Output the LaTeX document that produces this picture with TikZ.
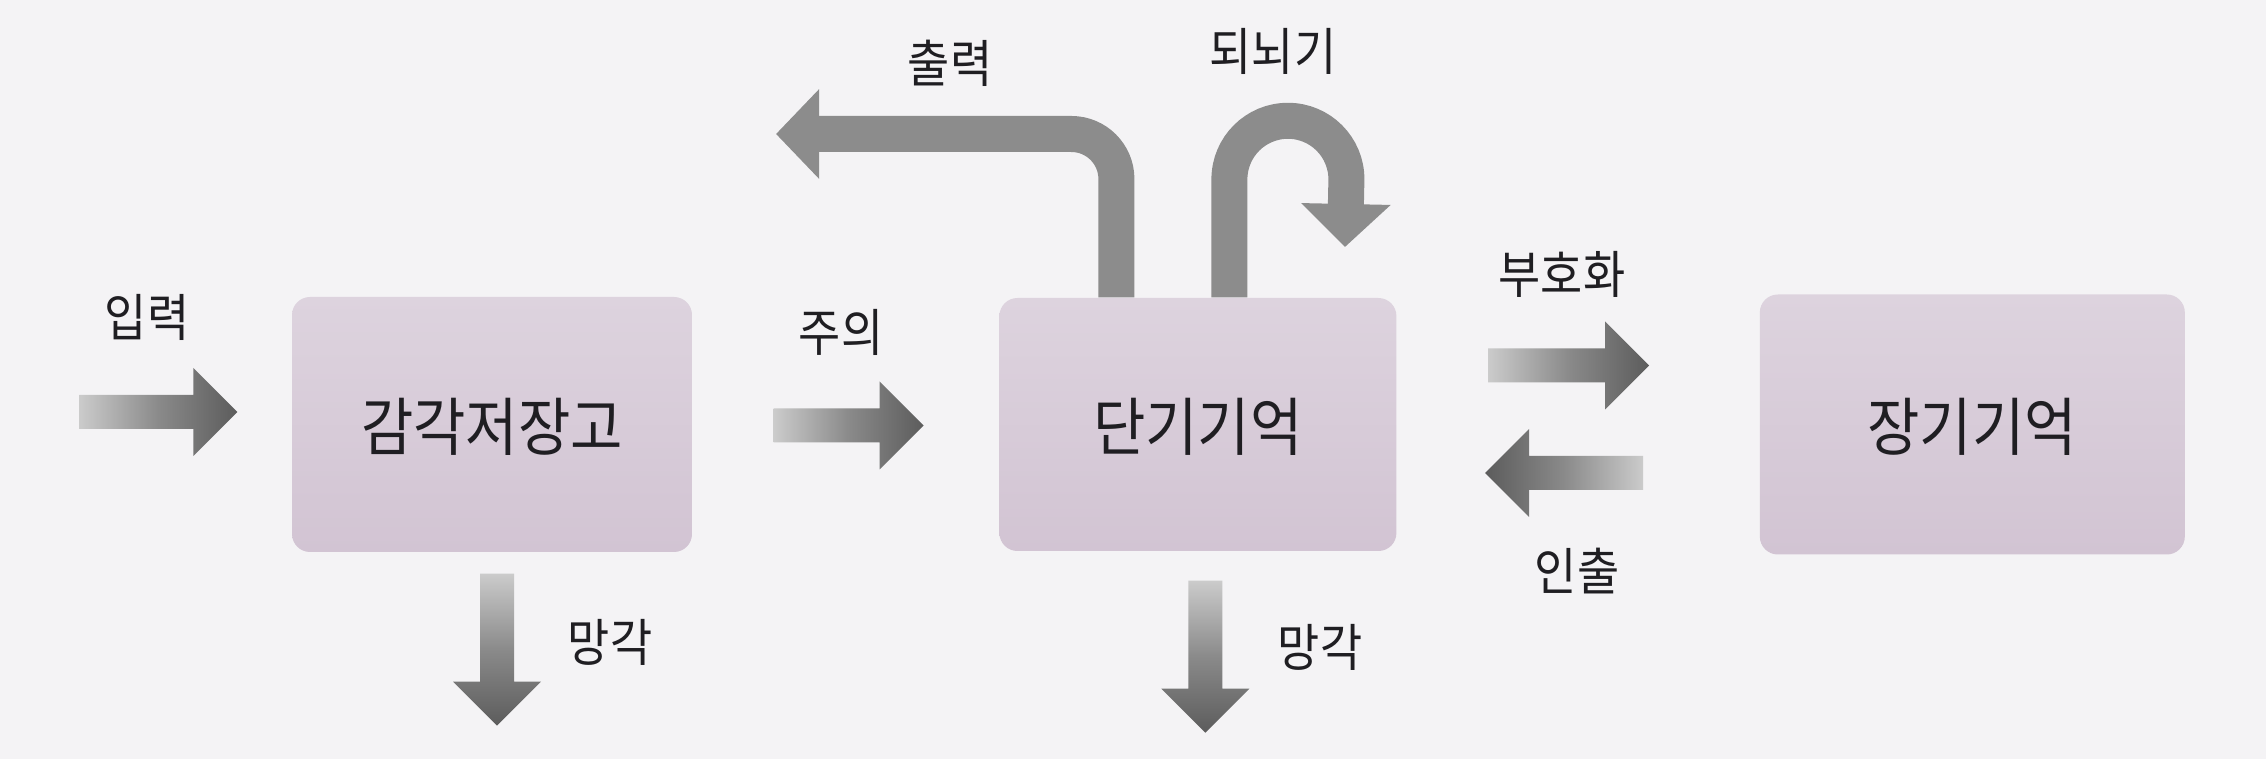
\documentclass[tikz,border=0pt]{standalone}
\usepackage{fontspec}
\setmainfont{Noto Sans CJK KR}[FakeStretch=0.9]
\usetikzlibrary{arrows.meta,positioning,calc}
\definecolor{paper}{HTML}{F4F3F5}
\definecolor{boxtop}{HTML}{DDD3DE}
\definecolor{boxbot}{HTML}{D2C4D3}
\definecolor{arrowlight}{HTML}{CBCBCB}
\definecolor{arrowmid}{HTML}{8A8A8A}
\definecolor{arrowdark}{HTML}{5C5C5C}
\definecolor{bentgray}{HTML}{8C8C8C}
\definecolor{ink}{HTML}{1F1E22}

\tikzset{
  membox/.style={rounded corners=0.18cm, top color=boxtop, bottom color=boxbot,
    text=ink, font=\fontsize{18pt}{21pt}\selectfont, text height=1.6em, text depth=0.1em},
  lbl/.style={text=ink, font=\fontsize{14.5pt}{17pt}\selectfont},
  fat arrow/.style={to path={
    ($(\tikztostart)!0.17cm!90:(\tikztotarget)$)
    -- ($($(\tikztotarget)!0.44cm!(\tikztostart)$)!0.17cm!90:(\tikztotarget)$)
    -- ($($(\tikztotarget)!0.44cm!(\tikztostart)$)!0.44cm!90:(\tikztotarget)$)
    -- (\tikztotarget)
    -- ($($(\tikztotarget)!0.44cm!(\tikztostart)$)!0.44cm!-90:(\tikztotarget)$)
    -- ($($(\tikztotarget)!0.44cm!(\tikztostart)$)!0.17cm!-90:(\tikztotarget)$)
    -- ($(\tikztostart)!0.17cm!-90:(\tikztotarget)$)
    -- cycle}},
  fade right/.style={left color=arrowlight, right color=arrowdark, middle color=arrowmid},
  fade left/.style={left color=arrowdark, right color=arrowlight, middle color=arrowmid},
  fade down/.style={top color=arrowlight, bottom color=arrowdark, middle color=arrowmid},
  bent/.style={draw=bentgray, line width=0.36cm,
    -{Triangle[width=0.87cm, length=0.43cm]}}
}

\begin{document}
\begin{tikzpicture}
  \useasboundingbox (0,0) rectangle (22.66,7.59);
  \fill[paper] (0,0) rectangle (22.66,7.59);

  % memory stores
  \node[membox, minimum width=4cm, minimum height=2.55cm] (sensory) at (4.92,3.345) {감각저장고};
  \node[membox, minimum width=3.97cm, minimum height=2.53cm, right=3.06cm of sensory] (stm) {단기기억};
  \node[membox, minimum width=4.25cm, minimum height=2.6cm, right=3.62cm of stm] (ltm) {장기기억};

  % arrow end points
  \coordinate (in-b) at ($(sensory.west)+(-0.54,0.125)$);
  \coordinate (in-a) at ($(in-b)+(-1.58,0)$);
  \coordinate (att-a) at ($(sensory.east)+(0.81,-0.01)$);
  \coordinate (att-b) at ($(stm.west)+(-0.75,-0.01)$);
  \coordinate (enc-a) at ($(stm.east)+(0.91,0.59)$);
  \coordinate (enc-b) at ($(enc-a)+(1.61,0)$);
  \coordinate (ret-a) at ($(stm.east)+(2.46,-0.485)$);
  \coordinate (ret-b) at ($(stm.east)+(0.88,-0.485)$);
  \coordinate (fg1-a) at ($(sensory.south)+(0.05,-0.21)$);
  \coordinate (fg1-b) at ($(fg1-a)+(0,-1.52)$);
  \coordinate (fg2-a) at ($(stm.south)+(0.075,-0.29)$);
  \coordinate (fg2-b) at ($(fg2-a)+(0,-1.52)$);
  \coordinate (out-end) at (7.76,6.25);
  \coordinate (reh-end) at (13.45,5.12);

  % flows
  \shade[fat arrow, fade right] (in-a) to (in-b);
  \shade[fat arrow, fade right] (att-a) to (att-b);
  \shade[fat arrow, fade right] (enc-a) to (enc-b);
  \shade[fat arrow, fade left] (ret-a) to (ret-b);
  \shade[fat arrow, fade down] (fg1-a) to (fg1-b);
  \shade[fat arrow, fade down] (fg2-a) to (fg2-b);
  \draw[bent, rounded corners=0.45cm] ($(stm.north)+(-0.815,0)$) |- (out-end);
  \draw[bent] ($(stm.north)+(0.315,0)$) -- ++(0,1.18)
    arc[start angle=180, end angle=0, radius=0.585] -- (reh-end);

  % labels
  \node[lbl] (l-in) at (1.47,4.42) {입력};
  \node[lbl] (l-att) at (8.41,4.27) {주의};
  \node[lbl] (l-out) at (9.50,6.96) {출력};
  \node[lbl] (l-reh) at (12.73,7.08) {되뇌기};
  \node[lbl] (l-enc) at (15.62,4.85) {부호화};
  \node[lbl] (l-ret) at (15.77,1.88) {인출};
  \node[lbl] (l-fg1) at (6.10,1.17) {망각};
  \node[lbl] (l-fg2) at (13.20,1.12) {망각};
\end{tikzpicture}
\end{document}
